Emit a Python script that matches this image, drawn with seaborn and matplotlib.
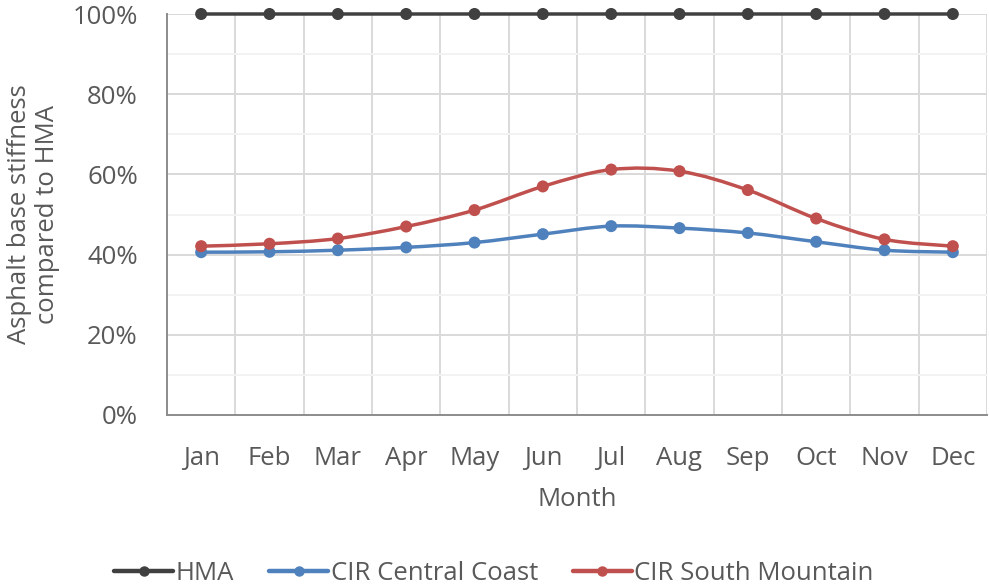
import numpy as np
import pandas as pd
import matplotlib
matplotlib.use("Agg")
import matplotlib.pyplot as plt
from matplotlib.path import Path
from matplotlib.patches import PathPatch
from matplotlib.lines import Line2D
from matplotlib.ticker import FixedLocator, PercentFormatter
import seaborn as sns

months = ["Jan", "Feb", "Mar", "Apr", "May", "Jun", "Jul", "Aug", "Sep", "Oct", "Nov", "Dec"]
series_names = ["HMA", "CIR Central Coast", "CIR South Mountain"]
hma = [100, 100, 100, 100, 100, 100, 100, 100, 100, 100, 100, 100]
central_coast = [40.6, 40.7, 41.1, 41.8, 43.0, 45.1, 47.1, 46.6, 45.4, 43.2, 41.1, 40.6]
south_mountain = [42.1, 42.7, 44.0, 47.0, 51.1, 57.0, 61.2, 60.8, 56.1, 49.0, 43.8, 42.1]
colors = ["#404040", "#4F81BD", "#C0504D"]

sns.set_theme(style="white")
plt.rcParams["font.family"] = ["Open Sans", "DejaVu Sans"]

df = pd.DataFrame({
    "Month": months * 3,
    "x": list(range(len(months))) * 3,
    "value": hma + central_coast + south_mountain,
    "series": sum([[n] * len(months) for n in series_names], []),
})

fig = plt.figure(figsize=(9.89, 5.87), dpi=100)
W, H = 989, 587
ax = fig.add_axes([167 / W, 1 - 415 / H, (987 - 167) / W, (415 - 14) / H])

# smooth lines (Catmull-Rom as cubic Bezier, like Excel smoothing)
def smooth_path(xs, ys):
    pts = np.column_stack([xs, ys]).astype(float)
    n = len(pts)
    verts = [pts[0]]
    codes = [Path.MOVETO]
    for i in range(n - 1):
        p0 = pts[i - 1] if i > 0 else pts[i]
        p1 = pts[i]
        p2 = pts[i + 1]
        p3 = pts[i + 2] if i + 2 < n else pts[i + 1]
        c1 = p1 + (p2 - p0) / 6.0
        c2 = p2 - (p3 - p1) / 6.0
        verts += [c1, c2, p2]
        codes += [Path.CURVE4] * 3
    return Path(verts, codes)

for name, col in zip(series_names, colors):
    sub = df[df["series"] == name]
    patch = PathPatch(smooth_path(sub["x"].values, sub["value"].values),
                      facecolor="none", edgecolor=col, lw=2.5, zorder=3,
                      capstyle="round", joinstyle="round", clip_on=False)
    ax.add_patch(patch)

sns.scatterplot(data=df, x="x", y="value", hue="series", palette=colors,
                hue_order=series_names, s=75, edgecolor="none", legend=False,
                ax=ax, zorder=4, clip_on=False)

ax.set_xlim(-0.5, len(months) - 0.5)
ax.set_ylim(0, 100)
ax.set_xticks(range(len(months)))
ax.set_xticklabels(months)
ax.xaxis.set_minor_locator(FixedLocator(np.arange(0.5, len(months), 1.0)))
ax.set_yticks(np.arange(0, 101, 20))
ax.yaxis.set_minor_locator(FixedLocator(np.arange(10, 100, 20)))
ax.yaxis.set_major_formatter(PercentFormatter(decimals=0))

ax.grid(False)
ax.grid(which="major", axis="y", color="#D9D9D9", lw=1.4, zorder=0)
ax.grid(which="minor", axis="y", color="#F2F2F2", lw=1.4, zorder=0)
ax.grid(which="minor", axis="x", color="#D9D9D9", lw=1.4, zorder=0)

for s in ["top", "right"]:
    ax.spines[s].set_visible(False)
for s in ["left", "bottom"]:
    ax.spines[s].set_color("#8C8C8C")
    ax.spines[s].set_linewidth(1.4)
ax.spines["left"].set_zorder(1)

FS = 18.5
ax.tick_params(axis="both", which="both", length=0, labelsize=FS, colors="#595959")
ax.tick_params(axis="x", pad=22)
ax.tick_params(axis="y", pad=21)

ax.set_xlabel("Month", fontsize=FS, color="#595959", labelpad=12)
ax.set_ylabel("Asphalt base stiffness\ncompared to HMA", fontsize=FS,
              color="#595959", labelpad=9, linespacing=1.15)

handles = [Line2D([0], [0], color=c, lw=3.2, marker="o", markersize=6.5) for c in colors]
fig.legend(handles, series_names, loc="center", bbox_to_anchor=(494 / W, 1 - 573 / H),
           ncol=3, frameon=False, fontsize=FS, handlelength=2.3, handletextpad=0.1,
           columnspacing=1.35, labelcolor="#595959")

fig.savefig("out.png", dpi=100)
